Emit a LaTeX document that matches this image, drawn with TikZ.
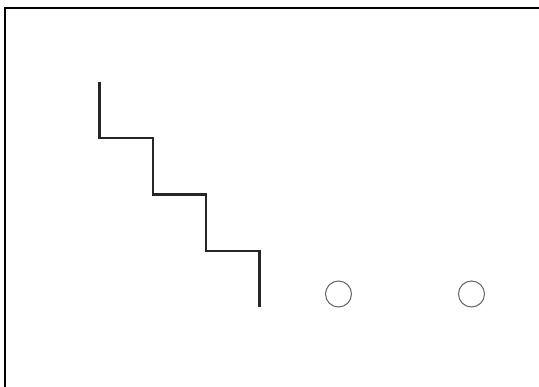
\documentclass[tikz,border=0pt]{standalone}
\begin{document}
\begin{tikzpicture}[x=1pt,y=-1pt,
  frame/.style={line width=1.6pt,black},
  stair/.style={line width=2.6pt,black!85,line join=miter},
  hole/.style={circle,draw=black!60,line width=1pt,minimum size=26pt,inner sep=0pt}]
\useasboundingbox (0,0) rectangle (539,387);
\fill[white] (0,0) rectangle (539,387);
\draw[frame] (4.8,395) -- (4.8,8.2) -- (545,8.2);
\coordinate (s0) at (99.5,82);
\coordinate (s1) at (99.5,138);
\coordinate (s2) at (153,138);
\coordinate (s3) at (153,194.5);
\coordinate (s4) at (206,194.5);
\coordinate (s5) at (206,251);
\coordinate (s6) at (259.5,251);
\coordinate (s7) at (259.5,307);
\draw[stair] (s0) -- (s1) -- (s2) -- (s3) -- (s4) -- (s5) -- (s6) -- (s7);
\node[hole] (c1) at (338.5,294) {};
\node[hole] (c2) at (471.5,294) {};
\end{tikzpicture}
\end{document}
